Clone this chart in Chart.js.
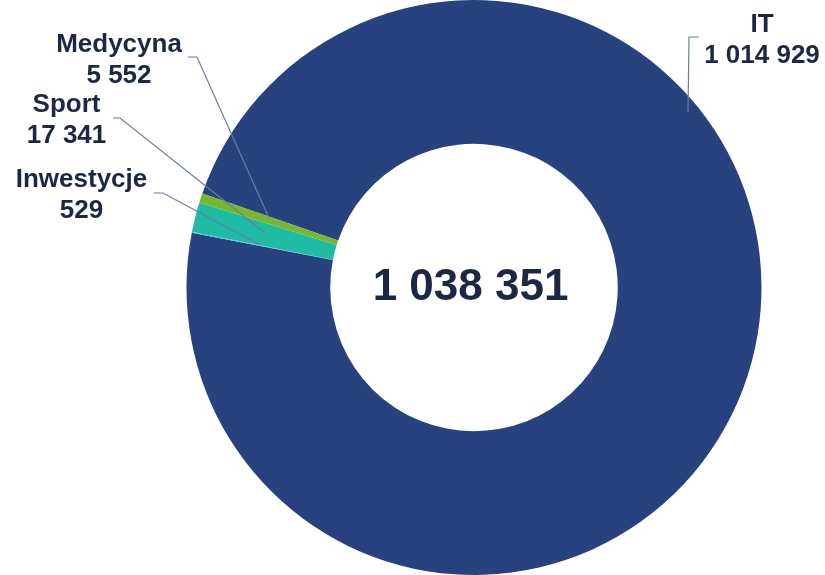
<!DOCTYPE html>
<html>
<head>
<meta charset="utf-8">
<script src="https://cdn.jsdelivr.net/npm/chart.js@4"></script>
<style>
html,body{margin:0;padding:0;background:#fff;}
#wrap{width:825px;height:575px;position:relative;}
</style>
</head>
<body>
<div id="wrap"><canvas id="c" width="825" height="575"></canvas></div>
<script>
const categories = ['IT', 'Inwestycje', 'Sport', 'Medycyna'];
const values = [1014929, 529, 17341, 5552];
const valueLabels = ['1 014 929', '529', '17 341', '5 552'];
const totalLabel = '1 038 351';
const colors = ['#27427F', '#3FC4E6', '#1EBBA5', '#76B72B'];

const textColor = '#1B2744';
const lineColor = '#6A7DA2';

// label placement (text centre x, first baseline y) and leader line points
const labelLayout = [
  {x: 762, y: 32, elbow: [[699, 37], [689, 37]], end: [688, 112]},
  {x: 81.5, y: 187, elbow: [[154, 193], [163, 193]], end: [260, 245]},
  {x: 66.5, y: 112, elbow: [[113, 118], [120, 118]], end: [265, 233]},
  {x: 119, y: 52, elbow: [[188, 57], [197, 57]], end: [269, 218]}
];

const labelsPlugin = {
  id: 'labelsPlugin',
  afterDraw(chart) {
    const ctx = chart.ctx;
    const meta = chart.getDatasetMeta(0);
    ctx.save();
    ctx.strokeStyle = lineColor;
    ctx.lineWidth = 1.2;
    labelLayout.forEach((l) => {
      ctx.beginPath();
      ctx.moveTo(l.elbow[0][0], l.elbow[0][1]);
      ctx.lineTo(l.elbow[1][0], l.elbow[1][1]);
      ctx.lineTo(l.end[0], l.end[1]);
      ctx.stroke();
    });
    ctx.fillStyle = textColor;
    ctx.textAlign = 'center';
    ctx.textBaseline = 'alphabetic';
    ctx.font = 'bold 26px "Liberation Sans", Arial, sans-serif';
    categories.forEach((c, i) => {
      const l = labelLayout[i];
      ctx.fillText(c, l.x, l.y);
      ctx.fillText(valueLabels[i], l.x, l.y + 30.5);
    });
    const arc = meta.data[0];
    ctx.font = 'bold 44px "Liberation Sans", Arial, sans-serif';
    ctx.fillText(totalLabel, arc.x - 3.5, arc.y + 12);
    ctx.restore();
  }
};

new Chart(document.getElementById('c'), {
  type: 'doughnut',
  data: {
    labels: categories,
    datasets: [{
      data: values,
      backgroundColor: colors,
      borderWidth: 0
    }]
  },
  options: {
    responsive: false,
    animation: false,
    cutout: '50%',
    rotation: 289.1,
    layout: {padding: {left: 123, right: 0, top: 0, bottom: 0}},
    plugins: {
      legend: {display: false},
      tooltip: {enabled: false}
    }
  },
  plugins: [labelsPlugin]
});
</script>
</body>
</html>
